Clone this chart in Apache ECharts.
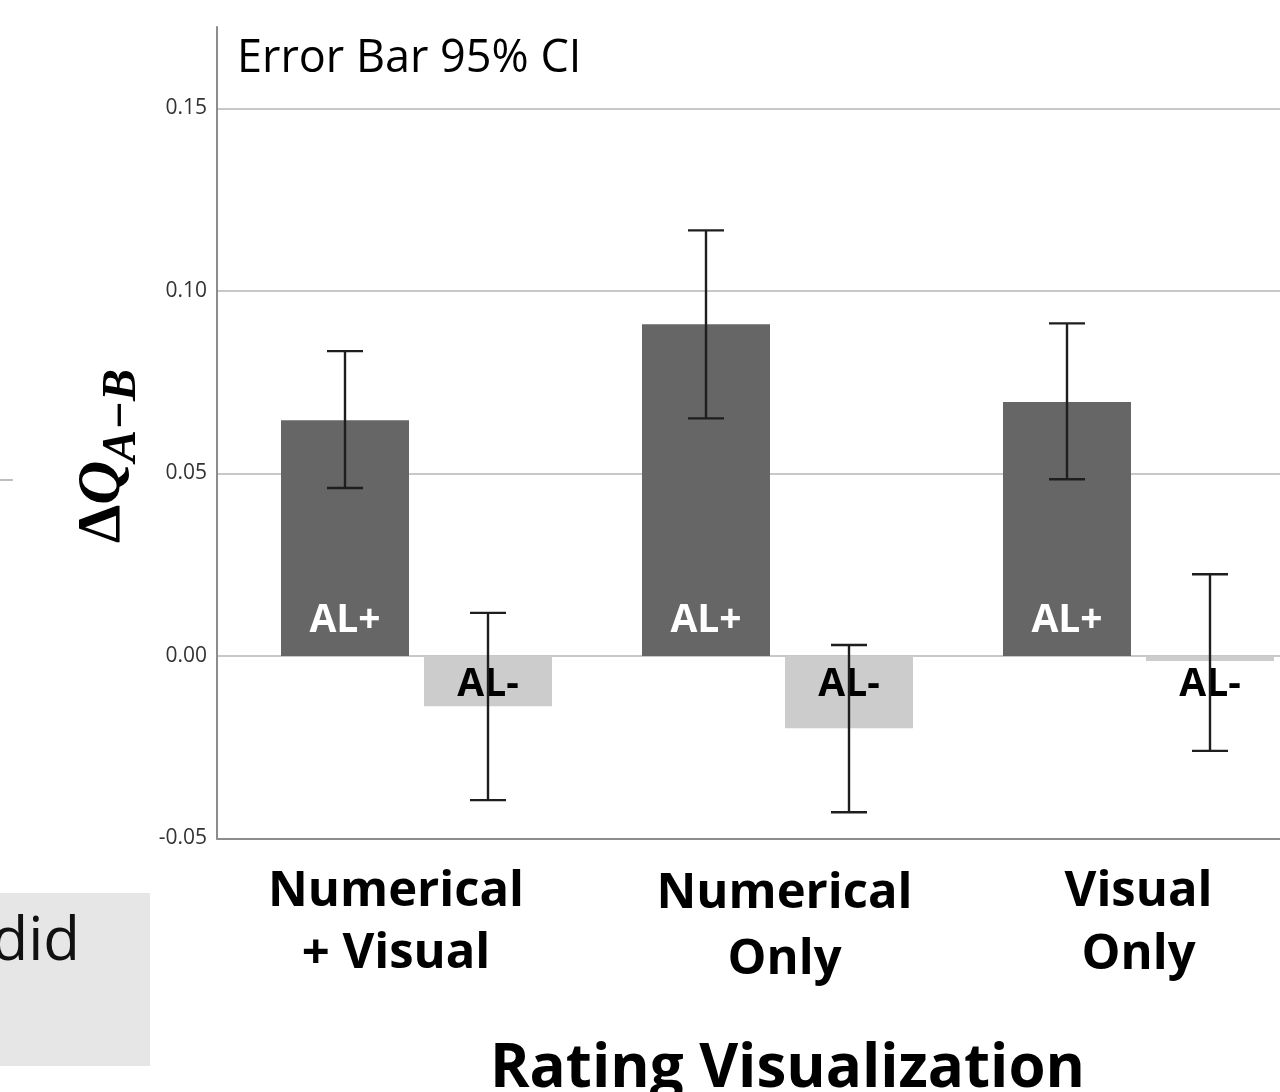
<!DOCTYPE html>
<html>
<head>
<meta charset="utf-8">
<script src="https://cdn.jsdelivr.net/npm/echarts@6/dist/echarts.min.js"></script>
<style>
html,body{margin:0;padding:0;background:#fff;overflow:hidden;width:1280px;height:1092px;}
#chart{width:1330px;height:1092px;}
</style>
</head>
<body>
<div id="chart"></div>
<script>
// ---- data ----
const categories = ['Numerical\n+ Visual', 'Numerical\nOnly', 'Visual\nOnly'];
const seriesNames = ['AL+', 'AL-'];
const alPlus      = [0.0646, 0.0909, 0.0696];
const alPlusLow   = [0.0460, 0.0651, 0.0484];
const alPlusHigh  = [0.0835, 0.1166, 0.0911];
const alMinus     = [-0.0138, -0.0198, -0.0014];
const alMinusLow  = [-0.0395, -0.0428, -0.0260];
const alMinusHigh = [0.0118, 0.0030, 0.0224];
const yMin = -0.05, yMax = 0.1723, yInterval = 0.05;

// ---- layout/styles ----
const GRID_TOP = 27, GRID_H = 811.5;
const BAR_W = 128, BAR_GAP = 15;
const OFF = (BAR_W + BAR_GAP) / 2;
const SANS = '"Open Sans", "Noto Sans", sans-serif';
const SERIF = '"Liberation Serif", "DejaVu Serif", serif';

function errData(lo, hi) {
  return categories.map((c, i) => [i, lo[i], hi[i]]);
}
function errRenderer(offset) {
  return function (params, api) {
    const idx = api.value(0);
    const lo = api.coord([idx, api.value(1)]);
    const hi = api.coord([idx, api.value(2)]);
    const x = lo[0] + offset;
    const cap = 18;
    const st = { stroke: '#1e1e1e', lineWidth: 2.4 };
    return {
      type: 'group',
      children: [
        { type: 'line', shape: { x1: x, y1: hi[1], x2: x, y2: lo[1] }, style: st },
        { type: 'line', shape: { x1: x - cap, y1: hi[1], x2: x + cap, y2: hi[1] }, style: st },
        { type: 'line', shape: { x1: x - cap, y1: lo[1], x2: x + cap, y2: lo[1] }, style: st }
      ]
    };
  };
}

// per-category x label tweaks (style only)
const labelStyles = [
  { padding: [0, 41, 0, 0], lineHeight: 62 },
  { padding: [0, 0, 0, 14], lineHeight: 66 },
  { padding: [0, 0, 0, 0], lineHeight: 63 }
];
const rich = {};
labelStyles.forEach((s, i) => {
  rich['g' + i] = Object.assign({
    fontFamily: SANS, fontWeight: 'bold', fontSize: 49, color: '#000'
  }, s);
});

const chart = echarts.init(document.getElementById('chart'), null, { renderer: 'canvas' });
chart.setOption({
  animation: false,
  backgroundColor: '#fff',
  grid: [
    { left: 236, top: GRID_TOP, width: 1083, height: GRID_H },
    { left: 217, top: GRID_TOP, width: 1110, height: GRID_H }
  ],
  xAxis: [
    {
      type: 'category', gridIndex: 0, data: categories,
      axisLine: { show: false }, axisTick: { show: false },
      axisLabel: {
        interval: 0, margin: 22.5,
        formatter: function (v, i) {
          return v.split('\n').map(t => '{g' + i + '|' + t + '}').join('\n');
        },
        rich: rich
      }
    },
    {
      type: 'value', gridIndex: 1, min: 0, max: 1,
      axisLine: { show: true, onZero: false, lineStyle: { color: '#8c8c8c', width: 2 } },
      axisTick: { show: false }, axisLabel: { show: false }, splitLine: { show: false }
    }
  ],
  yAxis: [
    { type: 'value', gridIndex: 0, min: yMin, max: yMax, interval: yInterval, show: false },
    {
      type: 'value', gridIndex: 1, min: yMin, max: yMax, interval: yInterval,
      axisLine: { show: true, lineStyle: { color: '#8c8c8c', width: 2 } },
      axisTick: { show: false },
      axisLabel: {
        showMaxLabel: false, margin: 10, fontSize: 21, fontFamily: SANS, color: '#333',
        formatter: function (v) { return v.toFixed(2); }
      },
      splitLine: { show: true, showMaxLine: false, showMinLine: false, lineStyle: { color: '#c8c8c8', width: 2 } }
    }
  ],
  series: [
    {
      name: seriesNames[0], type: 'bar', xAxisIndex: 0, yAxisIndex: 0,
      data: alPlus, barWidth: BAR_W, barGap: (BAR_GAP / BAR_W * 100) + '%',
      itemStyle: { color: '#666666' },
      label: {
        show: true, formatter: seriesNames[0], position: 'insideBottom', distance: 16,
        color: '#fff', fontFamily: SANS, fontWeight: 'bold', fontSize: 39
      }
    },
    {
      name: seriesNames[1], type: 'bar', xAxisIndex: 0, yAxisIndex: 0,
      data: alMinus, barWidth: BAR_W,
      itemStyle: { color: '#cccccc' },
      label: {
        show: true, formatter: seriesNames[1], position: 'insideTop', distance: 9,
        color: '#000', fontFamily: SANS, fontWeight: 'bold', fontSize: 39
      }
    },
    {
      type: 'custom', xAxisIndex: 0, yAxisIndex: 0, z: 5,
      renderItem: errRenderer(-OFF), data: errData(alPlusLow, alPlusHigh),
      encode: { x: 0, y: [1, 2] }
    },
    {
      type: 'custom', xAxisIndex: 0, yAxisIndex: 0, z: 5,
      renderItem: errRenderer(OFF), data: errData(alMinusLow, alMinusHigh),
      encode: { x: 0, y: [1, 2] }
    }
  ],
  graphic: [
    {
      type: 'text', x: 237, y: 59,
      style: { text: 'Error Bar 95% CI', font: '45px ' + SANS, fill: '#000', align: 'left', verticalAlign: 'middle' }
    },
    {
      type: 'text', x: 787.5, y: 1070,
      style: { text: 'Rating Visualization', fontFamily: SANS, fontWeight: 'bold', fontSize: 60, fill: '#000', align: 'center', verticalAlign: 'middle' }
    },
    {
      type: 'text', x: 103, y: 543, rotation: Math.PI / 2,
      style: {
        text: '{d|Δ}{q|Q}', align: 'left', verticalAlign: 'middle',
        rich: {
          d: { fontFamily: SERIF, fontWeight: 'bold', fontSize: 61, fill: '#000' },
          q: { fontFamily: SERIF, fontWeight: 'bold', fontStyle: 'italic', fontSize: 61, fill: '#000' }
        }
      }
    },
    {
      type: 'text', x: 122.5, y: 462, rotation: Math.PI / 2,
      style: { text: 'A−B', fontFamily: SERIF, fontWeight: 'bold', fontStyle: 'italic', fontSize: 48, fill: '#000', align: 'left', verticalAlign: 'middle' }
    },
    {
      type: 'line', shape: { x1: 0, y1: 480, x2: 13, y2: 480 },
      style: { stroke: '#aaaaaa', lineWidth: 1.5 }
    },
    {
      type: 'rect', shape: { x: 0, y: 893, width: 150, height: 173 },
      style: { fill: '#e6e6e6' }
    },
    {
      type: 'text', x: 80, y: 943,
      style: { text: 'did', fontFamily: SANS, fontSize: 60, fill: '#111', align: 'right', verticalAlign: 'middle' }
    }
  ]
});
</script>
</body>
</html>
